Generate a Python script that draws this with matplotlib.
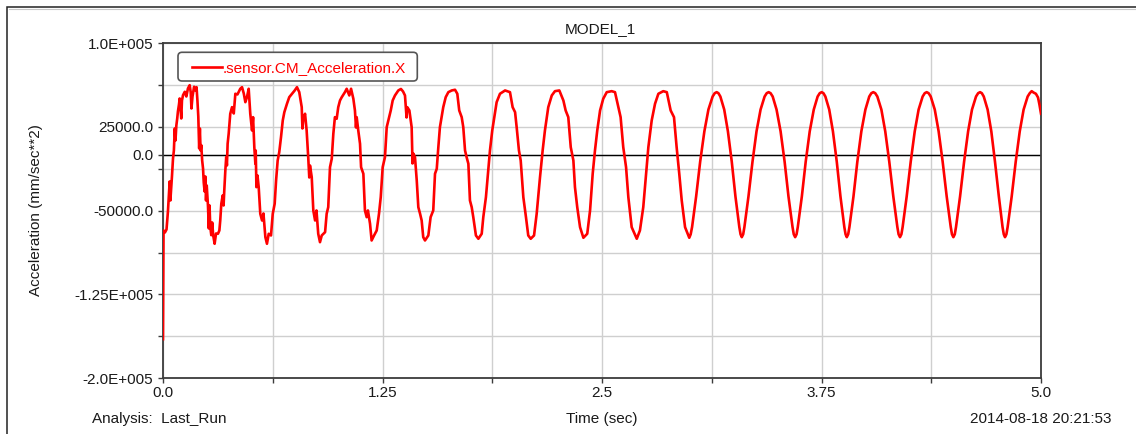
import matplotlib
matplotlib.use("Agg")
import matplotlib.pyplot as plt
from matplotlib.patches import FancyBboxPatch, Rectangle
from matplotlib.lines import Line2D
from matplotlib.transforms import IdentityTransform
from matplotlib.ticker import FixedLocator, FixedFormatter

plt.rcParams['font.family'] = ['Liberation Sans', 'DejaVu Sans']

# ---------------- text ----------------
title = "MODEL_1"
series_name = ".sensor.CM_Acceleration.X"
x_label = "Time (sec)"
y_label = "Acceleration (mm/sec**2)"
analysis_note = "Analysis:  Last_Run"
timestamp = "2014-08-18 20:21:53"

# ---------------- axes ----------------
x_limits = (0.0, 5.0)
y_limits = (-200000.0, 100000.0)
x_ticks = [0.0, 0.625, 1.25, 1.875, 2.5, 3.125, 3.75, 4.375, 5.0]
x_tick_labels = ["0.0", "", "1.25", "", "2.5", "", "3.75", "", "5.0"]
y_ticks = [-200000, -162500, -125000, -87500, -50000, -12500, 0, 25000, 62500, 100000]
y_tick_labels = ["-2.0E+005", "", "-1.25E+005", "", "-50000.0", "", "0.0",
                 "25000.0", "", "1.0E+005"]

# ---------------- data (time s, acceleration mm/s^2) ----------------
# start-up transient with high-frequency ripple (0 - 3 s)
settle_samples = [
    (0.000, -165000), (0.003, -67730), (0.011, -69520), (0.020, -66830), (0.028, -51000),
    (0.035, -32840), (0.038, -23890), (0.042, -40890), (0.046, -31940), (0.051, -19410),
    (0.057, -3310), (0.062, 3850), (0.067, 23530), (0.071, 12790), (0.076, 26210),
    (0.081, 32480), (0.085, 38740), (0.091, 45000), (0.095, 50370), (0.100, 41420),
    (0.104, 32480), (0.108, 48580), (0.114, 53320), (0.124, 56370), (0.133, 52160),
    (0.142, 59320), (0.152, 62270), (0.158, 55740), (0.162, 41420), (0.168, 52160),
    (0.177, 60840), (0.185, 57530), (0.191, 60480), (0.196, 48580), (0.201, 34270),
    (0.206, 5640), (0.210, 23530), (0.214, 3850), (0.218, 8590), (0.223, -5100),
    (0.228, -12260), (0.232, -24780), (0.237, -32840), (0.241, -19410), (0.245, -40890),
    (0.249, -27470), (0.256, -45360), (0.261, -65940), (0.265, -45360), (0.269, -64150),
    (0.275, -71930), (0.280, -60570), (0.286, -72200), (0.294, -79630), (0.302, -70410),
    (0.313, -70680), (0.321, -67730), (0.326, -58780), (0.332, -43840), (0.340, -36410),
    (0.345, -45360), (0.349, -31940), (0.355, -14050), (0.360, -2150), (0.364, -9570),
    (0.368, 9840), (0.374, 18790), (0.383, 36680), (0.393, 42590), (0.403, 36950),
    (0.412, 54580), (0.424, 53950), (0.440, 59050), (0.450, 60480), (0.460, 54840),
    (0.469, 47060), (0.478, 51530), (0.488, 59050), (0.497, 36680), (0.507, 21740),
    (0.513, 33640), (0.520, 6800), (0.526, -8050), (0.528, 3850), (0.532, -28990),
    (0.538, -18520), (0.545, -28990), (0.554, -52790), (0.564, -58780), (0.572, -52520),
    (0.583, -73720), (0.592, -79630), (0.602, -70680), (0.615, -72200), (0.625, -52790),
    (0.636, -43840), (0.644, -22990), (0.653, -5100), (0.662, 2330), (0.672, 15750),
    (0.682, 30690), (0.691, 38110), (0.706, 45630), (0.719, 51530), (0.735, 54580),
    (0.750, 57530), (0.763, 60480), (0.776, 56010), (0.790, 42590), (0.794, 23530),
    (0.799, 32480), (0.809, 36680), (0.818, 21740), (0.827, -2150), (0.833, -20310),
    (0.837, -9570), (0.847, -20040), (0.856, -49830), (0.866, -58780), (0.874, -49830),
    (0.884, -70680), (0.894, -78200), (0.904, -72200), (0.923, -69250), (0.932, -52790),
    (0.941, -46880), (0.951, -11090), (0.961, -3580), (0.970, 18790), (0.979, 33640),
    (0.989, 32210), (0.998, 42590), (1.008, 48580), (1.018, 51530), (1.036, 56010),
    (1.046, 59050), (1.061, 53060), (1.071, 59050), (1.084, 50100), (1.093, 39630),
    (1.099, 24430), (1.103, 33640), (1.112, 21740), (1.122, 9840), (1.128, -11090),
    (1.141, -17000), (1.150, -49830), (1.160, -55830), (1.167, -49830), (1.179, -61730),
    (1.188, -76680), (1.202, -72200), (1.217, -67730), (1.230, -52790), (1.240, -37930),
    (1.251, -11090), (1.264, -2150), (1.274, 24690), (1.283, 30690), (1.297, 39630),
    (1.308, 48580), (1.321, 53060), (1.340, 57530), (1.355, 58870), (1.367, 56630),
    (1.378, 53060), (1.387, 33370), (1.391, 42590), (1.403, 39630), (1.416, 24690),
    (1.421, -7780), (1.425, 1160), (1.435, -2150), (1.445, -22990), (1.454, -46880),
    (1.464, -52790), (1.473, -58780), (1.482, -73720), (1.492, -76680), (1.511, -72200),
    (1.524, -55830), (1.539, -49830), (1.549, -17000), (1.559, -12530), (1.568, 6800),
    (1.577, 24690), (1.596, 42590), (1.610, 51530), (1.625, 56010), (1.644, 57530),
    (1.663, 58160), (1.676, 54580), (1.687, 39630), (1.701, 33640), (1.710, 24690),
    (1.720, 3850), (1.729, -2150), (1.739, -8050), (1.748, -40890), (1.758, -46880),
    (1.767, -55830), (1.782, -72200), (1.796, -75150), (1.815, -70680), (1.824, -55830),
    (1.839, -37930), (1.852, -14050), (1.862, 3850), (1.875, 21740), (1.887, 33640),
    (1.900, 47060), (1.919, 54580), (1.948, 57530), (1.976, 56010), (1.991, 42590),
    (2.005, 38110), (2.014, 24690), (2.027, 3850), (2.037, -5100), (2.052, -37930),
    (2.067, -55830), (2.080, -72200), (2.094, -75150), (2.113, -72200), (2.128, -52790),
    (2.147, -20040), (2.162, 3850), (2.175, 21740), (2.194, 42590), (2.214, 53060),
    (2.232, 56900), (2.257, 57530), (2.280, 48580), (2.293, 39630), (2.308, 33640),
    (2.322, 6800), (2.337, -5100), (2.346, -28990), (2.359, -46880), (2.375, -64780),
    (2.394, -74260), (2.416, -70680), (2.432, -49830), (2.447, -17000), (2.460, 3850),
    (2.473, 21740), (2.489, 39630), (2.507, 50100), (2.527, 56010), (2.555, 56900),
    (2.574, 56010), (2.593, 42590), (2.606, 33640), (2.621, 6800), (2.637, -11090),
    (2.650, -37930), (2.669, -64780), (2.698, -75150), (2.716, -67730), (2.735, -46880),
    (2.751, -17000), (2.764, 6800), (2.783, 30690), (2.802, 45630), (2.821, 54580),
    (2.849, 56900), (2.869, 56010), (2.891, 39630), (2.910, 33640), (2.925, 6800),
    (2.940, -17000), (2.954, -40890), (2.973, -64780), (2.997, -74260),
]

# steady oscillation (3 - 5 s)
steady_samples = [
    (3.005, -71130), (3.013, -64640), (3.036, -37400), (3.059, -6260), (3.083, 20980),
    (3.106, 40440), (3.130, 52120), (3.142, 55100), (3.153, 56010),
    (3.163, 55100), (3.174, 52120), (3.196, 40440), (3.217, 20980), (3.239, -6260),
    (3.260, -37400), (3.282, -64640), (3.289, -71130), (3.296, -73720),
    (3.304, -71130), (3.311, -64640), (3.334, -37400), (3.357, -6260), (3.380, 20980),
    (3.403, 40440), (3.426, 52120), (3.438, 55100), (3.449, 56010),
    (3.460, 55100), (3.472, 52120), (3.494, 40440), (3.517, 20980), (3.540, -6260),
    (3.562, -37400), (3.585, -64640), (3.592, -71130), (3.600, -73720),
    (3.608, -71130), (3.615, -64640), (3.638, -37400), (3.660, -6260), (3.683, 20980),
    (3.706, 40440), (3.728, 52120), (3.740, 55100), (3.751, 56010),
    (3.761, 55100), (3.772, 52120), (3.794, 40440), (3.815, 20980), (3.837, -6260),
    (3.858, -37400), (3.880, -64640), (3.887, -71130), (3.894, -73720),
    (3.902, -71130), (3.909, -64640), (3.932, -37400), (3.954, -6260), (3.977, 20980),
    (4.000, 40440), (4.022, 52120), (4.034, 55100), (4.045, 56010),
    (4.056, 55100), (4.068, 52120), (4.091, 40440), (4.113, 20980), (4.136, -6260),
    (4.159, -37400), (4.182, -64640), (4.189, -71130), (4.197, -73720),
    (4.205, -71130), (4.212, -64640), (4.235, -37400), (4.258, -6260), (4.281, 20980),
    (4.303, 40440), (4.326, 52120), (4.338, 55100), (4.349, 56010),
    (4.360, 55100), (4.372, 52120), (4.395, 40440), (4.417, 20980), (4.440, -6260),
    (4.463, -37400), (4.486, -64640), (4.493, -71130), (4.501, -73720),
    (4.509, -71130), (4.516, -64640), (4.539, -37400), (4.562, -6260), (4.585, 20980),
    (4.607, 40440), (4.630, 52120), (4.642, 55100), (4.653, 56010),
    (4.663, 55100), (4.674, 52120), (4.696, 40440), (4.717, 20980), (4.738, -6260),
    (4.760, -37400), (4.781, -64640), (4.788, -71130), (4.795, -73720),
    (4.803, -71130), (4.810, -64640), (4.833, -37400), (4.856, -6260), (4.879, 20980),
    (4.901, 40440), (4.924, 52120), (4.936, 55100), (4.947, 56900),
    (4.957, 55740), (4.971, 54580), (4.983, 51270), (4.991, 45000), (5.000, 36680),
]

time_s = [p[0] for p in settle_samples] + [p[0] for p in steady_samples]
accel = [p[1] for p in settle_samples] + [p[1] for p in steady_samples]

# ---------------- figure ----------------
W, H = 1136, 434
fig = plt.figure(figsize=(W / 100, H / 100), dpi=100)
fig.patch.set_facecolor("white")
ax = fig.add_axes([163 / W, (H - 378.3) / H, 878 / W, 335.3 / H])

text_color = "#1a1a1a"
spine_color = "#3c3c3c"

ax.set_xlim(*x_limits)
ax.set_ylim(*y_limits)
ax.xaxis.set_major_locator(FixedLocator(x_ticks))
ax.xaxis.set_major_formatter(FixedFormatter(x_tick_labels))
ax.yaxis.set_major_locator(FixedLocator(y_ticks))
ax.yaxis.set_major_formatter(FixedFormatter(y_tick_labels))

ax.grid(True, color="#cfcfcf", linewidth=1.0, zorder=0)
ax.set_axisbelow(True)
for s in ax.spines.values():
    s.set_color(spine_color)
    s.set_linewidth(1.3)

ax.tick_params(axis="both", direction="out", length=3.6, width=1.0,
               color=spine_color, labelsize=11, labelcolor=text_color)
ax.tick_params(axis="y", pad=3.4)
ax.tick_params(axis="x", pad=2.2)

ax.axhline(0, color="black", linewidth=1.0, zorder=1.5)

line, = ax.plot(time_s, accel, color="#ff0000", linewidth=1.9, zorder=3,
                label=series_name)

# legend
leg = ax.legend(handles=[line], loc="center left", bbox_to_anchor=(0.0330, 0.9254),
                frameon=False, borderpad=0, borderaxespad=0, handlelength=1.96,
                handletextpad=0.05, fontsize=11, labelcolor="#ff0000")
leg.set_zorder(6)
box = FancyBboxPatch((178, H - 81), 239.3, 28.7,
                     boxstyle="round,pad=0,rounding_size=4",
                     transform=IdentityTransform(), facecolor="white",
                     edgecolor="#555555", linewidth=1.2, zorder=5, clip_on=False)
ax.add_artist(box)

# texts
fig.text(600 / W, (H - 33.3) / H, title, ha="center", va="baseline",
         fontsize=11, color=text_color)
fig.text(36 / W, (H - 210) / H, y_label, rotation=90, ha="center", va="center",
         fontsize=11, color=text_color)
fig.text(92 / W, (H - 423) / H, analysis_note, ha="left", va="baseline",
         fontsize=11, color=text_color)
fig.text(602 / W, (H - 423) / H, x_label, ha="center", va="baseline",
         fontsize=11, color=text_color)
fig.text(1112 / W, (H - 423) / H, timestamp, ha="right", va="baseline",
         fontsize=11, color=text_color)

# outer frame (top and left edges visible)
fig.add_artist(Rectangle((7 / W, -0.2), 1.5, (H - 7.3) / H + 0.2,
                         transform=fig.transFigure, fill=False,
                         edgecolor="#222222", linewidth=1.1))
fig.add_artist(Line2D([8.5 / W, 1.0], [(H - 9) / H, (H - 9) / H],
                      transform=fig.transFigure, color="#c8c8c8", linewidth=0.8))

fig.savefig("out.png", dpi=100, facecolor="white")
